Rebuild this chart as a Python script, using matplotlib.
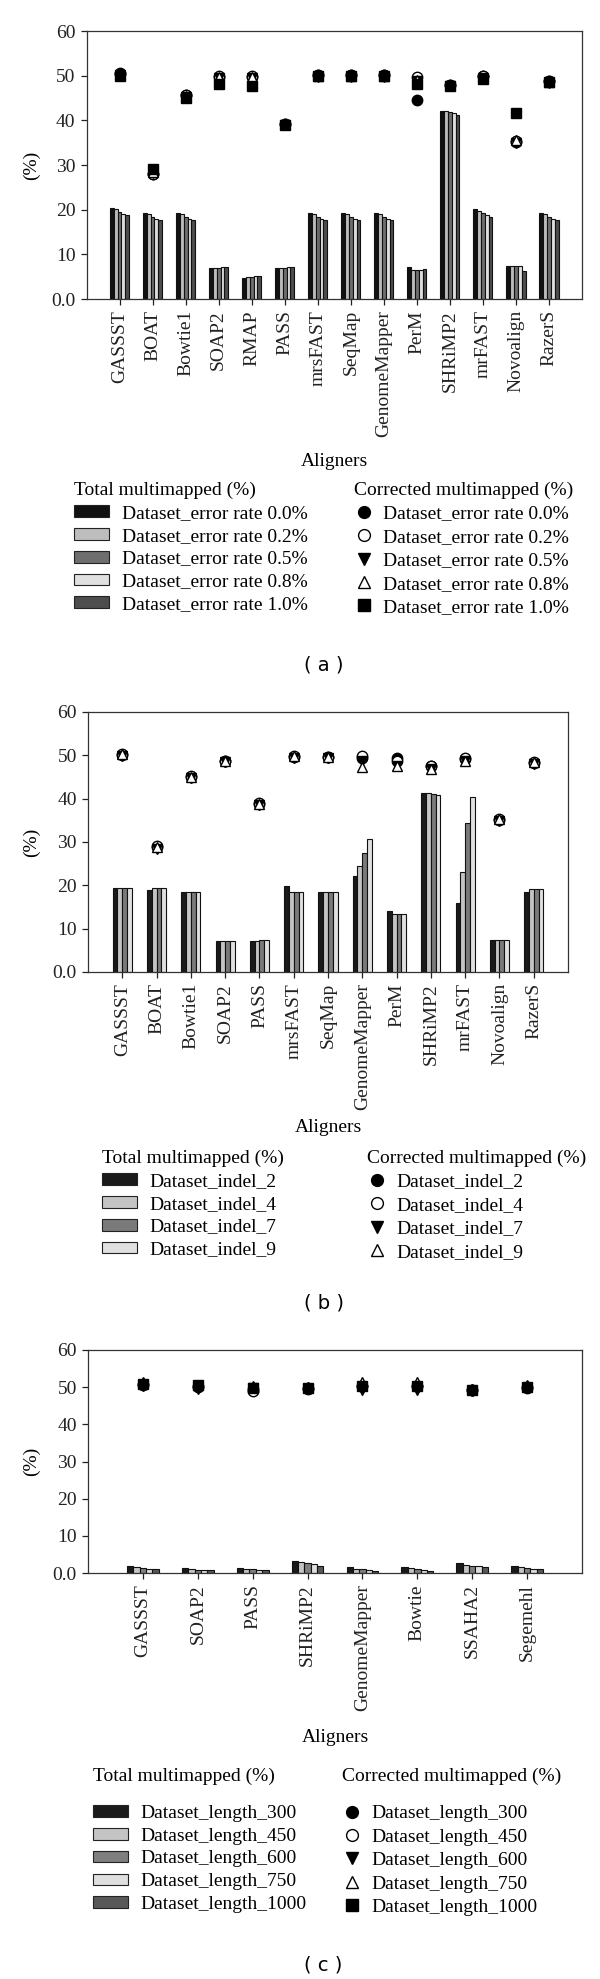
import numpy as np
import matplotlib
matplotlib.use('Agg')
import matplotlib.pyplot as plt
from matplotlib.patches import Patch
from matplotlib.lines import Line2D

plt.rcParams['font.family'] = ['Liberation Serif', 'DejaVu Serif']
plt.rcParams['font.size'] = 14

W, H = 600, 1979

# ---------------- data (a) : error rate ----------------
aligners_a = ['GASSST', 'BOAT', 'Bowtie1', 'SOAP2', 'RMAP', 'PASS', 'mrsFAST', 'SeqMap',
              'GenomeMapper', 'PerM', 'SHRiMP2', 'mrFAST', 'Novoalign', 'RazerS']
labels_a = ['Dataset_error rate 0.0%', 'Dataset_error rate 0.2%', 'Dataset_error rate 0.5%',
            'Dataset_error rate 0.8%', 'Dataset_error rate 1.0%']
total_a = [
    [20.4, 19.3, 19.3, 7.0, 4.8, 7.0, 19.3, 19.3, 19.3, 7.1, 42.2, 20.1, 7.3, 19.3],
    [20.1, 19.1, 19.0, 7.0, 4.9, 7.0, 19.0, 19.0, 19.0, 6.5, 42.1, 19.8, 7.3, 19.0],
    [19.5, 18.4, 18.4, 7.0, 5.0, 7.0, 18.4, 18.4, 18.4, 6.5, 41.9, 19.3, 7.3, 18.4],
    [19.1, 17.9, 17.9, 7.1, 5.1, 7.1, 17.9, 17.9, 17.9, 6.6, 41.6, 18.8, 7.4, 18.0],
    [18.7, 17.7, 17.6, 7.1, 5.1, 7.1, 17.6, 17.6, 17.6, 6.7, 41.3, 18.3, 6.3, 17.7],
]
corr_a = [
    [50.5, 28.0, 45.6, 49.8, 49.8, 39.1, 50.1, 50.1, 50.1, 44.5, 47.9, 49.9, 35.2, 48.8],
    [50.4, 28.0, 45.6, 50.0, 50.0, 39.2, 50.1, 50.1, 50.1, 49.6, 47.9, 49.9, 35.4, 48.8],
    [50.2, 28.3, 45.3, 49.5, 49.4, 38.9, 49.8, 49.8, 49.8, 48.9, 47.6, 49.4, 35.0, 48.4],
    [50.3, 28.5, 45.5, 49.6, 49.6, 39.1, 50.0, 50.0, 50.0, 49.1, 47.8, 49.5, 35.6, 48.6],
    [50.0, 29.0, 44.9, 48.2, 47.7, 39.0, 49.9, 49.9, 49.9, 48.2, 47.7, 49.3, 41.6, 48.5],
]

# ---------------- data (b) : indel ----------------
aligners_b = ['GASSST', 'BOAT', 'Bowtie1', 'SOAP2', 'PASS', 'mrsFAST', 'SeqMap',
              'GenomeMapper', 'PerM', 'SHRiMP2', 'mrFAST', 'Novoalign', 'RazerS']
labels_b = ['Dataset_indel_2', 'Dataset_indel_4', 'Dataset_indel_7', 'Dataset_indel_9']
total_b = [
    [19.4, 19.0, 18.5, 7.1, 7.1, 19.8, 18.5, 22.1, 14.0, 41.4, 16.0, 7.3, 18.4],
    [19.5, 19.4, 18.5, 7.1, 7.2, 18.5, 18.5, 24.5, 13.5, 41.2, 23.1, 7.3, 19.2],
    [19.5, 19.4, 18.5, 7.1, 7.3, 18.5, 18.5, 27.4, 13.5, 41.0, 34.4, 7.3, 19.2],
    [19.5, 19.4, 18.5, 7.2, 7.3, 18.5, 18.5, 30.6, 13.5, 40.9, 40.5, 7.4, 19.2],
]
corr_b = [
    [50.1, 28.9, 45.1, 48.7, 38.8, 49.7, 49.6, 49.5, 49.4, 47.5, 49.2, 35.1, 48.3],
    [50.2, 29.0, 45.2, 48.8, 38.9, 49.8, 49.7, 49.8, 48.6, 47.6, 49.3, 35.2, 48.4],
    [49.8, 28.5, 44.8, 48.4, 38.5, 49.4, 49.4, 48.6, 47.6, 46.8, 48.6, 34.8, 48.0],
    [50.3, 28.8, 45.0, 48.7, 38.8, 49.9, 49.7, 47.2, 47.6, 46.9, 48.6, 35.2, 48.4],
]

# ---------------- data (c) : read length ----------------
aligners_c = ['GASSST', 'SOAP2', 'PASS', 'SHRiMP2', 'GenomeMapper', 'Bowtie', 'SSAHA2', 'Segemehl']
labels_c = ['Dataset_length_300', 'Dataset_length_450', 'Dataset_length_600',
            'Dataset_length_750', 'Dataset_length_1000']
total_c = [
    [2.0, 1.3, 1.3, 3.2, 1.6, 1.7, 2.7, 1.9],
    [1.6, 1.1, 1.1, 2.9, 1.2, 1.3, 2.1, 1.5],
    [1.4, 0.9, 1.0, 2.7, 1.0, 1.1, 2.0, 1.3],
    [1.2, 0.8, 0.9, 2.4, 0.8, 0.8, 1.9, 1.2],
    [1.1, 0.7, 0.8, 1.9, 0.6, 0.6, 1.6, 1.1],
]
corr_c = [
    [50.6, 50.0, 49.5, 49.6, 50.2, 50.2, 49.2, 49.9],
    [50.8, 50.2, 49.1, 49.7, 50.4, 50.4, 49.3, 50.0],
    [50.3, 49.6, 49.8, 49.4, 49.3, 49.3, 48.9, 49.7],
    [51.4, 50.5, 50.4, 50.0, 51.3, 51.4, 49.6, 50.6],
    [50.8, 50.5, 49.7, 49.8, 50.3, 50.2, 49.3, 50.1],
]

colors_a = ['#111111', '#bdbdbd', '#6e6e6e', '#e0e0e0', '#4d4d4d']
colors_b = ['#1a1a1a', '#c4c4c4', '#7a7a7a', '#e0e0e0']
colors_c = ['#1a1a1a', '#c4c4c4', '#7f7f7f', '#dedede', '#585858']
markers = [('o', 'black'), ('o', 'white'), ('v', 'black'), ('^', 'white'), ('s', 'black')]

yticks = [0, 10, 20, 30, 40, 50, 60]
ytick_labels = ['0.0', '10', '20', '30', '40', '50', '60']

fig = plt.figure(figsize=(W / 100, H / 100), dpi=100)


def rect(l, r, t, b):
    return [l / W, 1 - b / H, (r - l) / W, (b - t) / H]


def draw_panel(box, cats, totals, colors, corrected, group=0.58):
    ax = fig.add_axes(rect(*box))
    x = np.arange(len(cats))
    n = len(totals)
    w = group / n
    for i, vals in enumerate(totals):
        ax.bar(x - group / 2 + w * (i + 0.5), vals, width=w, color=colors[i],
               edgecolor='#111111', linewidth=0.8, zorder=2)
    for i, vals in enumerate(corrected):
        m, fc = markers[i]
        ax.plot(x, vals, linestyle='none', marker=m, markersize=7.5,
                markerfacecolor=fc, markeredgecolor='black', markeredgewidth=1.0, zorder=3)
    ax.set_xlim(-1, len(cats))
    ax.set_ylim(0, 60)
    ax.set_yticks(yticks)
    ax.set_yticklabels(ytick_labels)
    ax.set_xticks(x)
    ax.set_xticklabels(cats, rotation=90)
    ax.tick_params(axis='both', direction='out', length=4, width=0.9, labelsize=14,
                   colors='#222222', pad=4)
    for s in ax.spines.values():
        s.set_linewidth(0.9)
        s.set_color('#333333')
    return ax


def add_legends(labels, colors, nser, left_x, right_x, title_y, tpad):
    patches = [Patch(facecolor=colors[i], edgecolor='#222222', linewidth=0.8) for i in range(nser)]
    lg1 = fig.legend(patches, labels, title='Total multimapped (%)', loc='upper left',
                     bbox_to_anchor=(left_x / W, 1 - title_y / H), frameon=False,
                     alignment='left', borderpad=0, borderaxespad=0, fontsize=14,
                     title_fontsize=14, handlelength=1.8, handleheight=0.55,
                     handletextpad=0.65, labelspacing=0.3)
    handles = [Line2D([], [], linestyle='none', marker=markers[i][0], markersize=8.5,
                      markerfacecolor=markers[i][1], markeredgecolor='black')
               for i in range(nser)]
    lg2 = fig.legend(handles, labels, title='Corrected multimapped (%)', loc='upper left',
                     bbox_to_anchor=(right_x / W, 1 - title_y / H), frameon=False,
                     alignment='left', borderpad=0, borderaxespad=0, fontsize=14,
                     title_fontsize=14, handlelength=1.0, handletextpad=0.5,
                     labelspacing=0.3)
    for lg in (lg1, lg2):
        lg._legend_box.sep = tpad


def ann(x, y, s, **kw):
    fig.text(x / W, 1 - y / H, s, ha='center', va='center', **kw)


# panel (a)
draw_panel((86.5, 582, 31, 299), aligners_a, total_a, colors_a, corr_a)
ann(31, 165, '(%)', rotation=90, fontsize=14)
ann(334, 462, 'Aligners', fontsize=14)
add_legends(labels_a, colors_a, 5, 74, 354, 482, 4)
ann(324, 665, '( a )', family='DejaVu Sans', fontsize=14)

# panel (b)
draw_panel((88, 568, 712, 972), aligners_b, total_b, colors_b, corr_b, group=0.56)
ann(31, 842, '(%)', rotation=90, fontsize=14)
ann(328, 1128, 'Aligners', fontsize=14)
add_legends(labels_b, colors_b, 4, 102, 367, 1150, 4)
ann(324, 1303, '( b )', family='DejaVu Sans', fontsize=14)

# panel (c)
draw_panel((88, 582, 1350, 1573), aligners_c, total_c, colors_c, corr_c)
ann(31, 1461, '(%)', rotation=90, fontsize=14)
ann(335, 1737, 'Aligners', fontsize=14)
add_legends(labels_c, colors_c, 5, 93, 342, 1768, 14)
ann(323, 1965, '( c )', family='DejaVu Sans', fontsize=14)

fig.savefig('out.png', dpi=100)
